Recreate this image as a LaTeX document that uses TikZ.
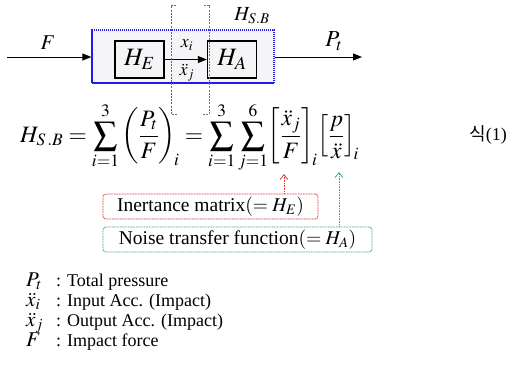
\documentclass[tikz,border=0pt]{standalone}
\usepackage{mathptmx}
\usepackage{fontspec}
\setmainfont{Liberation Serif}
\newfontfamily\krfont{Noto Sans CJK KR}
\usetikzlibrary{arrows.meta}
\definecolor{boxblue}{RGB}{30,30,230}
\definecolor{boxfill}{RGB}{245,245,247}
\definecolor{redln}{RGB}{225,60,60}
\definecolor{greenln}{RGB}{60,180,100}
\definecolor{brkL}{RGB}{110,95,125}
\definecolor{brkR}{RGB}{140,110,95}
\tikzset{
  blk/.style={draw=black, line width=1.4pt, fill=boxfill, minimum width=49pt, minimum height=37pt, inner sep=0pt},
  sig/.style={-{Triangle[length=9pt,width=7pt]}, line width=1pt},
  lbl/.style={inner sep=0pt, font=\fontsize{21}{24}\selectfont},
  annbox/.style={rounded corners=3pt, line width=0.8pt, dash pattern=on 1pt off 0.6pt, inner sep=0pt, font=\fontsize{19.5}{22}\selectfont},
  legsym/.style={inner sep=0pt, anchor=base west, font=\fontsize{21}{24}\selectfont},
  legend/.style={inner sep=0pt, anchor=base west, font=\fontsize{18}{20}\selectfont},
  brk/.style={line width=0.8pt, dash pattern=on 2pt off 1.2pt}
}
\begin{document}
\begin{tikzpicture}[x=1pt,y=-1pt]
\useasboundingbox (0,0) rectangle (513,376);
% system box
\node[draw=boxblue, line width=1.2pt, dash pattern=on 1.5pt off 0.5pt, fill=boxfill, minimum width=182pt, minimum height=53pt, inner sep=0pt] (sys) at (183,56.5) {};
\node[blk] (HE) at (139.5,59.5) {\fontsize{25}{28}\selectfont$H_{E}$};
\node[blk] (HA) at (232,59.5) {\fontsize{25}{28}\selectfont$H_{A}$};
\coordinate (Fin) at (7,57);
\coordinate (Pout) at (362,57);
\draw[sig] (Fin) -- (sys.west |- Fin);
\draw[sig] (sys.east |- Pout) -- (Pout);
\draw[sig] (HE.east) -- (HA.west);
\node[lbl] (Flab) at (48,43) {$F$};
\node[lbl] (Plab) at (334,41) {\fontsize{23}{26}\selectfont$P_{t}$};
\node[lbl] (HSB) at (252,16) {\fontsize{20}{22}\selectfont$H_{S.B}$};
\node[lbl] (xi) at (187,45) {\fontsize{18}{20}\selectfont$x_{i}$};
\node[lbl] (xj) at (187,73) {\fontsize{18}{20}\selectfont$\ddot{x}_{j}$};
% brackets
\coordinate (bL1) at (171,5); \coordinate (bL2) at (171,114);
\coordinate (bR1) at (209,5); \coordinate (bR2) at (209,114);
\draw[brk, brkL] ([xshift=5pt]bL1) -- (bL1) -- (bL2) -- ([xshift=6pt]bL2);
\draw[brk, brkR] ([xshift=-5pt]bR1) -- (bR1) -- (bR2) -- ([xshift=-6pt]bR2);
% equation
\node[inner sep=0pt, anchor=base west] (eq) at (20,142) {\fontsize{23.5}{28}\selectfont$\displaystyle H_{S\,.B}=\sum_{i=1}^{3}\left(\frac{P_{t}}{F}\right)_{\!i}=\sum_{i=1}^{3}\sum_{j=1}^{6}\!\left[\frac{\ddot{x}_{j}}{F}\right]_{\!i}\!\left[\frac{p}{\ddot{x}}\right]_{\!i}$};
\node[inner sep=0pt, anchor=base west] (eqno) at (469,140) {\fontsize{18}{20}\selectfont{\krfont 식}(1)};
% annotation boxes
\node[annbox, draw=redln, minimum width=215pt, minimum height=25pt] (ine) at (210.5,206.5) {Inertance matrix$(=H_{E})$};
\node[annbox, draw=greenln, minimum width=269pt, minimum height=25pt] (ntf) at (237.5,239.5) {Noise transfer function$(=H_{A})$};
\coordinate (tF) at (284,174);
\coordinate (tX) at (339,172);
\draw[redln, line width=0.8pt, dash pattern=on 1pt off 0.6pt, -{Straight Barb[length=5pt,width=8pt]}] (ine.north -| tF) -- (tF);
\draw[greenln, line width=0.8pt, dash pattern=on 1pt off 0.6pt, -{Straight Barb[length=5pt,width=8pt]}] (ntf.north -| tX) -- (tX);
% legend
\node[legsym] (l1s) at (26,286) {$P_{t}$};
\node[legend] (l1t) at (56,286) {: Total pressure};
\node[legsym] (l2s) at (26,306) {$\ddot{x}_{i}$};
\node[legend] (l2t) at (56,306) {: Input Acc. (Impact)};
\node[legsym] (l3s) at (26,326) {$\ddot{x}_{j}$};
\node[legend] (l3t) at (56,326) {: Output Acc. (Impact)};
\node[legsym] (l4s) at (26,346) {$F$};
\node[legend] (l4t) at (56,346) {: Impact force};
\end{tikzpicture}
\end{document}
